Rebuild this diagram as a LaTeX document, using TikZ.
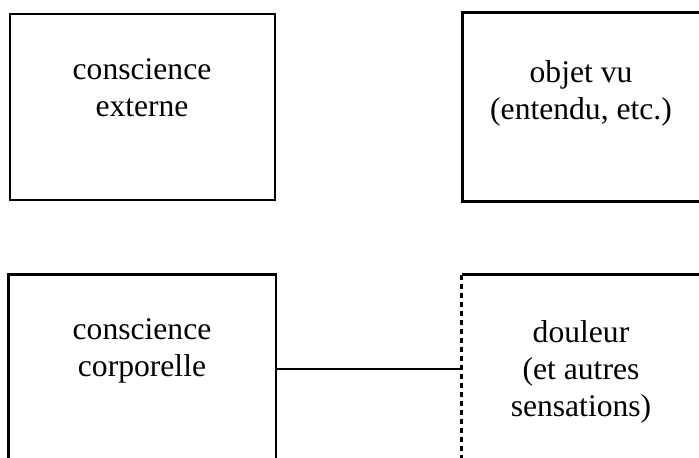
\documentclass[tikz,border=0pt]{standalone}
\usepackage{fontspec}
\setmainfont{Liberation Serif}
\usetikzlibrary{positioning}
\begin{document}
\begin{tikzpicture}[
        x = 0.5pt, y = -0.5pt, % pixel grid
        line width = 1.3pt, % line style
        box/.style = {rectangle, minimum width = 132.5pt, minimum height = 93pt, inner sep = 0pt},
        txt/.style = {align = center, font = \fontsize{15.8}{18.5}\selectfont, inner sep = 0pt},
        dashline/.style = {dash pattern = on 2.5pt off 2pt}
    ]
    \useasboundingbox (0,0) rectangle (699,457);

    % Boxes
    \node[box, draw] (tl) at (142.5,107) {};
    \node[box, minimum width = 117.5pt] (tr) at (581.5,107) {};
    \node[box] (bl) at (142,369) {};
    \node[box, minimum width = 118pt] (br) at (581,369) {};

    \draw (tr.north east) -- (tr.north west) -- (tr.south west) -- (tr.south east);
    \draw (bl.south west) -- (bl.north west) -- (bl.north east) -- (bl.south east);
    \draw (br.north west) -- (br.north east);
    \draw[dashline] (br.north west) -- (br.south west);

    % Texts
    \node[txt] (tl text) at (142,88) {conscience\\externe};
    \node[txt] (tr text) at (581,93) {objet vu\\(entendu, etc.)};
    \node[txt] (bl text) at (142,351) {conscience\\corporelle};
    \node[txt] (br text) at (581,372) {douleur\\(et autres\\sensations)};

    \draw (bl.east) -- (br.west);
\end{tikzpicture}
\end{document}
